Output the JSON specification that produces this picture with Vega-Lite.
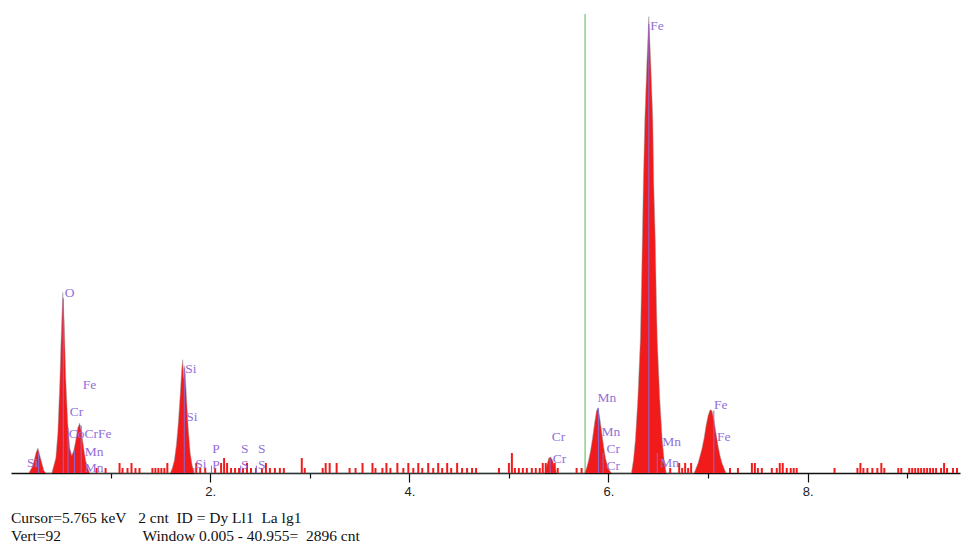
{
  "$schema": "https://vega.github.io/schema/vega-lite/v6.json",
  "width": 949,
  "height": 459,
  "autosize": "none",
  "padding": {"left": 11, "top": 14, "right": 8, "bottom": 73},
  "background": "white",
  "config": {"view": {"stroke": null}},
  "title": {
    "text": ["Cursor=5.765 keV\u00a0\u00a0\u00a02 cnt\u00a0\u00a0ID = Dy Ll1\u00a0\u00a0La lg1", "Vert=92\u00a0\u00a0\u00a0\u00a0\u00a0\u00a0\u00a0\u00a0\u00a0\u00a0\u00a0\u00a0\u00a0\u00a0\u00a0\u00a0\u00a0\u00a0\u00a0\u00a0\u00a0Window 0.005 - 40.955=\u00a0\u00a02896 cnt"],
    "orient": "bottom",
    "anchor": "start",
    "font": "Liberation Serif",
    "fontSize": 15.5,
    "fontWeight": "normal",
    "color": "#111",
    "lineHeight": 18,
    "offset": 13
  },
  "datasets": {
    "peaks": [
      {"e": 0.18, "c": 0}, {"e": 0.22, "c": 1.5}, {"e": 0.25, "c": 4}, {"e": 0.27, "c": 5}, {"e": 0.29, "c": 3.5}, {"e": 0.31, "c": 2}, {"e": 0.33, "c": 0.5}, {"e": 0.35, "c": 0},
      {"e": 0.41, "c": 0}, {"e": 0.43, "c": 1.5}, {"e": 0.45, "c": 3}, {"e": 0.47, "c": 8}, {"e": 0.49, "c": 18}, {"e": 0.50, "c": 25}, {"e": 0.52, "c": 36.2}, {"e": 0.535, "c": 30}, {"e": 0.55, "c": 19}, {"e": 0.57, "c": 10}, {"e": 0.59, "c": 5}, {"e": 0.61, "c": 3.5}, {"e": 0.63, "c": 4.5}, {"e": 0.65, "c": 6.5}, {"e": 0.67, "c": 9}, {"e": 0.69, "c": 10}, {"e": 0.71, "c": 8}, {"e": 0.73, "c": 5}, {"e": 0.75, "c": 2.5}, {"e": 0.77, "c": 1}, {"e": 0.79, "c": 0},
      {"e": 1.60, "c": 0}, {"e": 1.62, "c": 1}, {"e": 1.64, "c": 2.5}, {"e": 1.66, "c": 5.5}, {"e": 1.68, "c": 10}, {"e": 1.70, "c": 16}, {"e": 1.715, "c": 21}, {"e": 1.725, "c": 22.7}, {"e": 1.735, "c": 19}, {"e": 1.745, "c": 21.5}, {"e": 1.76, "c": 16}, {"e": 1.78, "c": 9}, {"e": 1.80, "c": 4}, {"e": 1.82, "c": 1.5}, {"e": 1.84, "c": 0},
      {"e": 5.36, "c": 0}, {"e": 5.38, "c": 1.5}, {"e": 5.40, "c": 3}, {"e": 5.42, "c": 3.2}, {"e": 5.44, "c": 2.5}, {"e": 5.46, "c": 1}, {"e": 5.48, "c": 0},
      {"e": 5.76, "c": 0}, {"e": 5.78, "c": 1}, {"e": 5.80, "c": 2.5}, {"e": 5.82, "c": 4.5}, {"e": 5.84, "c": 7}, {"e": 5.86, "c": 10}, {"e": 5.88, "c": 12.5}, {"e": 5.895, "c": 13.1}, {"e": 5.91, "c": 11.5}, {"e": 5.93, "c": 8.5}, {"e": 5.95, "c": 5.5}, {"e": 5.97, "c": 3}, {"e": 5.99, "c": 1.5}, {"e": 6.01, "c": 0.5}, {"e": 6.03, "c": 0},
      {"e": 6.23, "c": 0}, {"e": 6.25, "c": 2.5}, {"e": 6.27, "c": 6.6}, {"e": 6.295, "c": 15}, {"e": 6.32, "c": 26.7}, {"e": 6.33, "c": 36}, {"e": 6.34, "c": 46.8}, {"e": 6.35, "c": 58}, {"e": 6.365, "c": 70.9}, {"e": 6.385, "c": 82}, {"e": 6.405, "c": 91.5}, {"e": 6.425, "c": 82}, {"e": 6.445, "c": 70.9}, {"e": 6.455, "c": 58}, {"e": 6.47, "c": 46.8}, {"e": 6.48, "c": 36}, {"e": 6.49, "c": 26.7}, {"e": 6.515, "c": 15}, {"e": 6.54, "c": 6.6}, {"e": 6.56, "c": 2.5}, {"e": 6.58, "c": 0},
      {"e": 6.86, "c": 0}, {"e": 6.88, "c": 1}, {"e": 6.90, "c": 2}, {"e": 6.92, "c": 3.5}, {"e": 6.94, "c": 5}, {"e": 6.96, "c": 7}, {"e": 6.98, "c": 9.5}, {"e": 7.00, "c": 11.5}, {"e": 7.02, "c": 12.7}, {"e": 7.04, "c": 12.5}, {"e": 7.06, "c": 10.5}, {"e": 7.08, "c": 8}, {"e": 7.10, "c": 5.5}, {"e": 7.12, "c": 3.5}, {"e": 7.14, "c": 2}, {"e": 7.16, "c": 1}, {"e": 7.18, "c": 0}
    ],
    "noise": [
      {"e": 0.86, "c": 1}, {"e": 0.95, "c": 1}, {"e": 1.09, "c": 2}, {"e": 1.12, "c": 1}, {"e": 1.17, "c": 1}, {"e": 1.21, "c": 2}, {"e": 1.25, "c": 1}, {"e": 1.29, "c": 1}, {"e": 1.42, "c": 1}, {"e": 1.45, "c": 1}, {"e": 1.48, "c": 1}, {"e": 1.51, "c": 1}, {"e": 1.54, "c": 1}, {"e": 1.57, "c": 2},
      {"e": 1.86, "c": 2}, {"e": 1.90, "c": 1}, {"e": 1.95, "c": 1}, {"e": 2.05, "c": 1}, {"e": 2.11, "c": 2}, {"e": 2.14, "c": 3}, {"e": 2.17, "c": 2}, {"e": 2.21, "c": 1}, {"e": 2.25, "c": 1}, {"e": 2.29, "c": 1}, {"e": 2.33, "c": 1}, {"e": 2.37, "c": 2}, {"e": 2.41, "c": 1}, {"e": 2.46, "c": 1}, {"e": 2.52, "c": 1}, {"e": 2.56, "c": 2}, {"e": 2.60, "c": 1}, {"e": 2.65, "c": 1}, {"e": 2.70, "c": 1}, {"e": 2.74, "c": 1}, {"e": 2.92, "c": 3}, {"e": 2.95, "c": 1}, {"e": 3.13, "c": 1}, {"e": 3.16, "c": 2}, {"e": 3.20, "c": 2}, {"e": 3.27, "c": 2}, {"e": 3.40, "c": 1}, {"e": 3.46, "c": 1}, {"e": 3.53, "c": 2}, {"e": 3.63, "c": 2}, {"e": 3.66, "c": 1}, {"e": 3.73, "c": 1}, {"e": 3.77, "c": 2}, {"e": 3.81, "c": 1}, {"e": 3.88, "c": 2}, {"e": 3.94, "c": 1}, {"e": 3.99, "c": 2}, {"e": 4.04, "c": 1}, {"e": 4.09, "c": 2}, {"e": 4.13, "c": 1}, {"e": 4.19, "c": 2}, {"e": 4.24, "c": 1}, {"e": 4.29, "c": 2}, {"e": 4.33, "c": 1}, {"e": 4.38, "c": 2}, {"e": 4.42, "c": 1}, {"e": 4.48, "c": 2}, {"e": 4.53, "c": 1}, {"e": 4.58, "c": 1}, {"e": 4.63, "c": 1}, {"e": 4.67, "c": 1}, {"e": 4.90, "c": 1}, {"e": 5.00, "c": 2}, {"e": 5.03, "c": 4}, {"e": 5.06, "c": 1}, {"e": 5.10, "c": 1}, {"e": 5.14, "c": 1}, {"e": 5.18, "c": 1}, {"e": 5.23, "c": 1}, {"e": 5.27, "c": 1}, {"e": 5.31, "c": 1}, {"e": 5.34, "c": 2}, {"e": 5.37, "c": 2}, {"e": 5.46, "c": 2}, {"e": 5.49, "c": 1}, {"e": 5.68, "c": 1}, {"e": 5.73, "c": 1},
      {"e": 6.62, "c": 1}, {"e": 6.71, "c": 2}, {"e": 6.74, "c": 1}, {"e": 6.77, "c": 2}, {"e": 6.80, "c": 1}, {"e": 6.83, "c": 2},
      {"e": 7.22, "c": 1}, {"e": 7.30, "c": 1}, {"e": 7.44, "c": 2}, {"e": 7.47, "c": 2}, {"e": 7.50, "c": 1}, {"e": 7.54, "c": 1}, {"e": 7.64, "c": 1}, {"e": 7.69, "c": 1}, {"e": 7.72, "c": 2}, {"e": 7.75, "c": 2}, {"e": 7.79, "c": 1}, {"e": 7.83, "c": 1}, {"e": 7.86, "c": 1}, {"e": 7.89, "c": 1}, {"e": 8.27, "c": 1}, {"e": 8.50, "c": 1}, {"e": 8.53, "c": 2}, {"e": 8.56, "c": 1}, {"e": 8.60, "c": 1}, {"e": 8.65, "c": 1}, {"e": 8.70, "c": 1}, {"e": 8.74, "c": 2}, {"e": 8.77, "c": 1}, {"e": 8.91, "c": 1}, {"e": 8.94, "c": 1}, {"e": 9.02, "c": 1}, {"e": 9.05, "c": 1}, {"e": 9.08, "c": 1}, {"e": 9.11, "c": 1}, {"e": 9.14, "c": 1}, {"e": 9.17, "c": 1}, {"e": 9.20, "c": 1}, {"e": 9.23, "c": 1}, {"e": 9.26, "c": 1}, {"e": 9.29, "c": 1}, {"e": 9.34, "c": 1}, {"e": 9.37, "c": 2}, {"e": 9.40, "c": 1}, {"e": 9.46, "c": 1}, {"e": 9.50, "c": 1}
    ],
    "markers": [
      {"e": 0.277, "h": 4}, {"e": 0.525, "h": 35}, {"e": 0.573, "h": 9}, {"e": 0.637, "h": 4.5}, {"e": 0.705, "h": 9.5}, {"e": 1.74, "h": 21}, {"e": 1.836, "h": 1}, {"e": 2.013, "h": 1.5}, {"e": 2.307, "h": 1.5}, {"e": 2.464, "h": 1.5}, {"e": 5.414, "h": 3}, {"e": 5.899, "h": 13}, {"e": 5.946, "h": 4}, {"e": 6.405, "h": 90}, {"e": 6.49, "h": 4}, {"e": 7.058, "h": 12.5}
    ],
    "labels": [
      {"e": 0.54, "c": 36.1, "t": "O"},
      {"e": 0.72, "c": 17.6, "t": "Fe"},
      {"e": 0.59, "c": 12.2, "t": "Cr"},
      {"e": 0.58, "c": 7.8, "t": "CoCrFe"},
      {"e": 0.74, "c": 4.2, "t": "Mn"},
      {"e": 0.74, "c": 1.0, "t": "Mn"},
      {"e": 0.16, "c": 2.0, "t": "Si"},
      {"e": 1.75, "c": 20.8, "t": "Si"},
      {"e": 1.76, "c": 11.2, "t": "Si"},
      {"e": 1.85, "c": 1.8, "t": "Si"},
      {"e": 2.02, "c": 4.8, "t": "P"},
      {"e": 2.02, "c": 1.6, "t": "P"},
      {"e": 2.31, "c": 4.8, "t": "S"},
      {"e": 2.48, "c": 4.8, "t": "S"},
      {"e": 2.31, "c": 1.6, "t": "S"},
      {"e": 2.48, "c": 1.6, "t": "S"},
      {"e": 5.43, "c": 7.2, "t": "Cr"},
      {"e": 5.44, "c": 2.8, "t": "Cr"},
      {"e": 5.89, "c": 15.0, "t": "Mn"},
      {"e": 5.93, "c": 8.2, "t": "Mn"},
      {"e": 5.98, "c": 4.8, "t": "Cr"},
      {"e": 5.98, "c": 1.4, "t": "Cr"},
      {"e": 6.42, "c": 89.6, "t": "Fe"},
      {"e": 6.54, "c": 6.2, "t": "Mn"},
      {"e": 6.52, "c": 2.0, "t": "Mn"},
      {"e": 7.06, "c": 13.6, "t": "Fe"},
      {"e": 7.09, "c": 7.2, "t": "Fe"}
    ],
    "cursor": [{"e": 5.765}]
  },
  "layer": [
    {
      "data": {"name": "cursor"},
      "mark": {"type": "rule", "color": "#74c274", "strokeWidth": 1.2},
      "encoding": {
        "x": {"field": "e", "type": "quantitative", "scale": {"domain": [0, 9.53], "nice": false, "zero": false},
          "axis": {
            "values": [1, 2, 3, 4, 5, 6, 7, 8, 9],
            "labelExpr": "datum.value % 2 === 0 ? datum.value + '.' : ''",
            "title": null,
            "grid": false,
            "domainColor": "#111",
            "domainWidth": 1.5,
            "tickColor": "#111",
            "tickWidth": 1.2,
            "tickSize": {"condition": {"test": "datum.value % 2 === 0", "value": 9}, "value": 5},
            "labelFont": "Liberation Sans",
            "labelFontSize": 13,
            "labelColor": "#222",
            "labelPadding": 3,
            "labelFlush": false
          }
        }
      }
    },
    {
      "data": {"name": "peaks"},
      "mark": {"type": "area", "color": "#f21b1b", "interpolate": "linear"},
      "encoding": {
        "x": {"field": "e", "type": "quantitative"},
        "y": {"field": "c", "type": "quantitative", "scale": {"domain": [0, 92], "nice": false}, "axis": null}
      }
    },
    {
      "data": {"name": "peaks"},
      "mark": {"type": "line", "color": "#8fa8a8", "strokeWidth": 0.8, "opacity": 0.6},
      "encoding": {
        "x": {"field": "e", "type": "quantitative"},
        "y": {"field": "c", "type": "quantitative"}
      }
    },
    {
      "data": {"name": "noise"},
      "mark": {"type": "rule", "color": "#f21b1b", "strokeWidth": 2},
      "encoding": {
        "x": {"field": "e", "type": "quantitative"},
        "y": {"field": "c", "type": "quantitative"},
        "y2": {"datum": 0}
      }
    },
    {
      "data": {"name": "markers"},
      "mark": {"type": "rule", "color": "#8a6ad6", "strokeWidth": 1},
      "encoding": {
        "x": {"field": "e", "type": "quantitative"},
        "y": {"field": "h", "type": "quantitative"},
        "y2": {"datum": 0}
      }
    },
    {
      "data": {"name": "labels"},
      "mark": {"type": "text", "align": "left", "baseline": "middle", "font": "Liberation Serif", "fontSize": 13.5, "color": "#9370db"},
      "encoding": {
        "x": {"field": "e", "type": "quantitative"},
        "y": {"field": "c", "type": "quantitative"},
        "text": {"field": "t"}
      }
    }
  ]
}
